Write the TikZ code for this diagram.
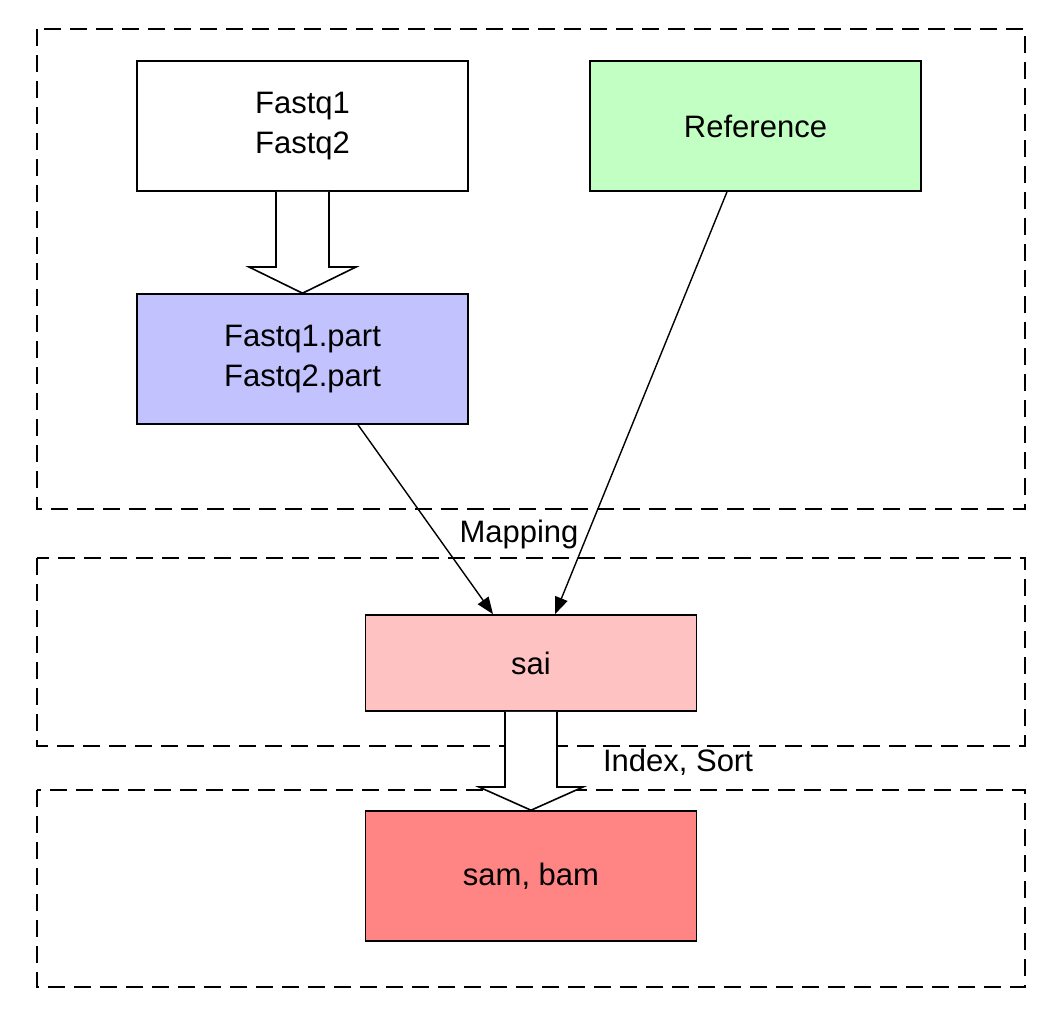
\documentclass[tikz,border=0pt]{standalone}
\usepackage{fontspec}
\setmainfont{Liberation Sans}
\usetikzlibrary{arrows.meta}
\definecolor{cgreen}{HTML}{C2FFC2}
\definecolor{cblue}{HTML}{C2C2FF}
\definecolor{cpink}{HTML}{FFC2C2}
\definecolor{cred}{HTML}{FF8484}
\begin{document}
\begin{tikzpicture}[x=1pt,y=-1pt,
  lw/.style={line width=1.6pt},
  group/.style={lw, draw, dash pattern=on 17pt off 9pt},
  box/.style={lw, draw, rectangle, minimum width=331pt, align=center, font=\fontsize{31}{40}\selectfont, inner sep=0pt},
  conn/.style={line width=1.4pt, -{Triangle[length=17pt,width=13pt]}},
  lbl/.style={font=\fontsize{31}{36}\selectfont, inner sep=0pt},
  blockarrow/.style={lw, draw, fill=white, line join=miter}
]
\useasboundingbox (0,0) rectangle (1064,1020);
% groups
\draw[group] (37,29) rectangle (1025,509);
\draw[group] (37,558) rectangle (1025,746);
\draw[group] (37,790) rectangle (1025,987);
% nodes
\node[box, fill=white, minimum height=130pt] (fq) at (302.5,126) {Fastq1\\Fastq2};
\node[box, fill=cgreen, minimum height=130pt] (ref) at (755.5,126) {Reference};
\node[box, fill=cblue, minimum height=130pt] (fqp) at (302.5,359) {Fastq1.part\\Fastq2.part};
\node[box, fill=cpink, minimum height=96pt] (sai) at (531,663) {sai};
\node[box, fill=cred, minimum height=130pt] (sam) at (531,876) {sam, bam};
% block arrows
\draw[blockarrow] (fq.south -| 276,0) -- (276,267) -- (249,267) -- (fqp.north) -- (356,267) -- (329,267) -- (fq.south -| 329,0);
\draw[blockarrow] (sai.south -| 505,0) -- (505,787) -- (479,787) -- (sam.north) -- (583,787) -- (557,787) -- (sai.south -| 557,0);
% connectors
\coordinate (a1) at (358,425);
\coordinate (a2) at (727,191);
\draw[conn] (fqp.south -| a1) -- (sai.north -| 493,0);
\draw[conn] (ref.south -| a2) -- (sai.north -| 555,0);
% labels
\node[lbl] (map) at (519,534) {Mapping};
\node[lbl] (idx) at (678,762) {Index, Sort};
\end{tikzpicture}
\end{document}
